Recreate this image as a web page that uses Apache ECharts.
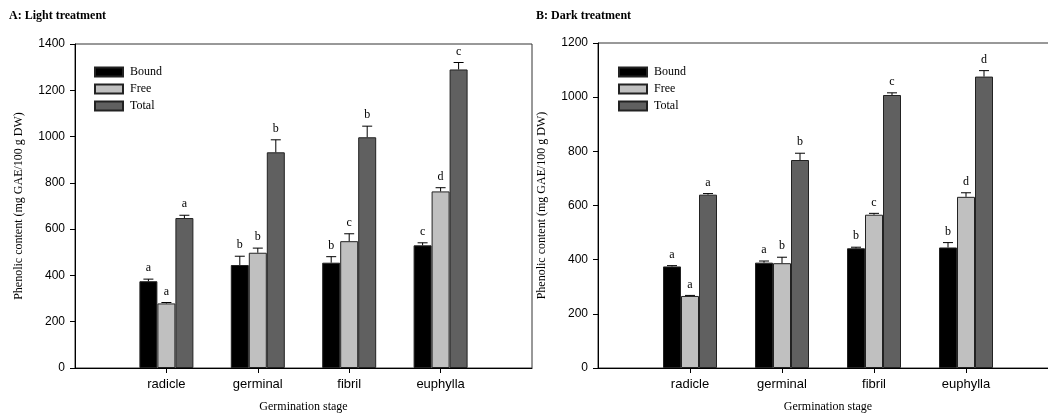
<!DOCTYPE html>
<html>
<head>
<meta charset="utf-8">
<script src="https://cdn.jsdelivr.net/npm/echarts@6/dist/echarts.min.js"></script>
<style>html,body{margin:0;padding:0;background:#fff;overflow:hidden}#c{width:1070px;height:418px}</style>
</head>
<body>
<div id="c"></div>
<script>
// ---- Data ----
const categories = ['', 'radicle', 'germinal', 'fibril', 'euphylla', ''];
const seriesNames = ['Bound', 'Free', 'Total'];

// Panel A: Light treatment
const lightBound = [375, 445, 455, 530];
const lightBoundErr = [9, 38, 26, 11];
const lightFree = [279, 498, 548, 763];
const lightFreeErr = [4, 20, 32, 16];
const lightTotal = [648, 932, 997, 1290];
const lightTotalErr = [12, 54, 48, 30];
const lightBoundLetters = ['a', 'b', 'b', 'c'];
const lightFreeLetters = ['a', 'b', 'c', 'd'];
const lightTotalLetters = ['a', 'b', 'b', 'c'];

// Panel B: Dark treatment
const darkBound = [375, 389, 442, 445];
const darkBoundErr = [3, 6, 4, 18];
const darkFree = [266, 387, 566, 632];
const darkFreeErr = [2, 22, 5, 15];
const darkTotal = [640, 768, 1008, 1076];
const darkTotalErr = [4, 25, 8, 22];
const darkBoundLetters = ['a', 'a', 'b', 'b'];
const darkFreeLetters = ['a', 'b', 'c', 'd'];
const darkTotalLetters = ['a', 'b', 'c', 'd'];

const yTicksLight = {min: 0, max: 1400, interval: 200};
const yTicksDark = {min: 0, max: 1200, interval: 200};

// ---- Styles ----
const colors = {Bound: '#000000', Free: '#c0c0c0', Total: '#606060'};
const BAR_W = 18;
const offsets = [-BAR_W, 0, BAR_W];
const serif = '"Liberation Serif", "Times New Roman", serif';
const sans = '"Liberation Sans", Arial, sans-serif';

function pad(arr) { return ['-'].concat(arr, ['-']); }

function barSeries(g, name, vals) {
  return {
    type: 'bar', name: name, xAxisIndex: g, yAxisIndex: g,
    data: pad(vals), barWidth: BAR_W, barGap: '0%',
    itemStyle: {color: colors[name], borderColor: '#222', borderWidth: 1},
    emphasis: {disabled: true}, animation: false, z: 2
  };
}

function errSeries(g, vals, errs, letters, off) {
  return {
    type: 'custom', name: 'err', xAxisIndex: g, yAxisIndex: g,
    data: vals.map((v, i) => [i + 1, v, errs[i]]),
    animation: false, z: 5, silent: true,
    renderItem: function (params, api) {
      const base = api.coord([api.value(0), api.value(1)]);
      const top = api.coord([api.value(0), api.value(1) + api.value(2)]);
      const cx = base[0] + off;
      return {
        type: 'group',
        children: [
          {type: 'line', shape: {x1: cx, y1: base[1], x2: cx, y2: top[1]}, style: {stroke: '#000', lineWidth: 1}},
          {type: 'line', shape: {x1: cx - 5, y1: top[1], x2: cx + 5, y2: top[1]}, style: {stroke: '#000', lineWidth: 1}},
          {type: 'text', style: {text: letters[params.dataIndex], x: cx, y: top[1] - 5, textAlign: 'center', textVerticalAlign: 'bottom', font: '12px ' + serif, fill: '#000'}}
        ]
      };
    }
  };
}

function xAxis(g) {
  return {
    type: 'category', gridIndex: g, data: categories, boundaryGap: false,
    name: 'Germination stage', nameLocation: 'middle', nameGap: 33,
    nameTextStyle: {fontFamily: serif, fontSize: 12, color: '#000'},
    axisLine: {lineStyle: {color: '#000', width: 1}},
    axisTick: {length: 5, lineStyle: {color: '#000'}, interval: (i, v) => v !== ''},
    axisLabel: {fontFamily: sans, fontSize: 13, color: '#000', margin: 10, interval: 0},
    splitLine: {show: false}
  };
}

function yAxis(g, t) {
  return {
    type: 'value', gridIndex: g, min: t.min, max: t.max, interval: t.interval,
    name: 'Phenolic content (mg GAE/100 g DW)', nameLocation: 'middle', nameGap: 50,
    nameTextStyle: {fontFamily: serif, fontSize: 12, color: '#000'},
    axisLine: {show: true, lineStyle: {color: '#000', width: 1}},
    axisTick: {show: true, length: 5, lineStyle: {color: '#000'}},
    axisLabel: {fontFamily: sans, fontSize: 12, color: '#000', margin: 10, formatter: v => String(v)},
    splitLine: {show: false}
  };
}

function legend(left) {
  return {
    data: seriesNames.map(n => ({name: n, icon: 'rect'})), orient: 'vertical', left: left, top: 66,
    itemWidth: 28, itemHeight: 9, itemGap: 5, selectedMode: false,
    textStyle: {fontFamily: serif, fontSize: 12, color: '#000', padding: [0, 0, 0, 2]},
    padding: 0
  };
}

const chart = echarts.init(document.getElementById('c'), null, {renderer: 'canvas'});
chart.setOption({
  backgroundColor: '#fff',
  animation: false,
  title: [
    {text: 'A: Light treatment', left: 9, top: 10, padding: 0, textStyle: {fontFamily: serif, fontSize: 12, fontWeight: 'bold', color: '#000'}},
    {text: 'B: Dark treatment', left: 536, top: 10, padding: 0, textStyle: {fontFamily: serif, fontSize: 12, fontWeight: 'bold', color: '#000'}}
  ],
  legend: [legend(94), legend(618)],
  grid: [
    {left: 75, top: 44, width: 457, height: 327, show: true, borderColor: '#333', borderWidth: 1, backgroundColor: 'transparent', containLabel: false},
    {left: 598, top: 43, width: 460, height: 328, show: true, borderColor: '#333', borderWidth: 1, backgroundColor: 'transparent', containLabel: false}
  ],
  xAxis: [xAxis(0), xAxis(1)],
  yAxis: [yAxis(0, yTicksLight), yAxis(1, yTicksDark)],
  series: [
    barSeries(0, 'Bound', lightBound),
    barSeries(0, 'Free', lightFree),
    barSeries(0, 'Total', lightTotal),
    errSeries(0, lightBound, lightBoundErr, lightBoundLetters, offsets[0]),
    errSeries(0, lightFree, lightFreeErr, lightFreeLetters, offsets[1]),
    errSeries(0, lightTotal, lightTotalErr, lightTotalLetters, offsets[2]),
    barSeries(1, 'Bound', darkBound),
    barSeries(1, 'Free', darkFree),
    barSeries(1, 'Total', darkTotal),
    errSeries(1, darkBound, darkBoundErr, darkBoundLetters, offsets[0]),
    errSeries(1, darkFree, darkFreeErr, darkFreeLetters, offsets[1]),
    errSeries(1, darkTotal, darkTotalErr, darkTotalLetters, offsets[2])
  ]
});
</script>
</body>
</html>
